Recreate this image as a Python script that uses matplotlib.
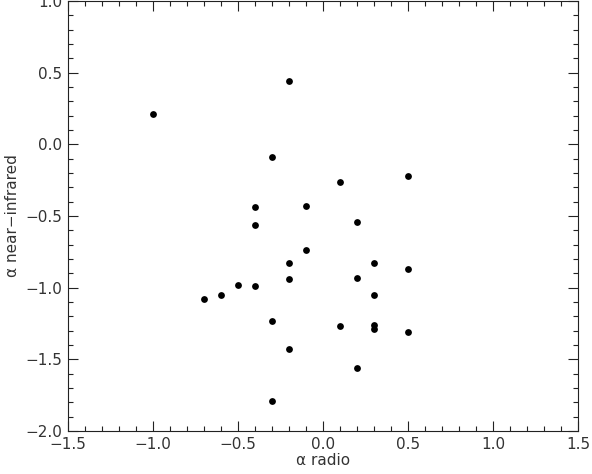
import numpy as np
import matplotlib.pyplot as plt
from matplotlib.ticker import MultipleLocator

# spectral indices
alpha_radio = [-1.0, -0.2, -0.3, 0.5, 0.1, -0.4, -0.1, 0.2, -0.4, -0.1,
               -0.2, 0.3, 0.5, 0.2, -0.2, -0.5, -0.4, -0.6, 0.3, -0.7,
               -0.3, 0.1, 0.3, 0.3, 0.5, -0.2, 0.2, -0.3]
alpha_nir = [0.21, 0.44, -0.09, -0.22, -0.26, -0.44, -0.43, -0.54, -0.56, -0.74,
             -0.83, -0.83, -0.87, -0.93, -0.94, -0.98, -0.99, -1.05, -1.05, -1.08,
             -1.23, -1.27, -1.26, -1.29, -1.31, -1.43, -1.56, -1.79]

plt.rcParams["font.family"] = ["DejaVu Sans"]
plt.rcParams["font.size"] = 11

fig = plt.figure(figsize=(5.92, 4.74), dpi=100)
ax = fig.add_axes([68 / 592, 1 - 431 / 474, 510 / 592, 430 / 474])

ax.scatter(alpha_radio, alpha_nir, s=24, color="k", linewidths=0, zorder=3)

ax.set_xlim(-1.5, 1.5)
ax.set_ylim(-2.0, 1.0)
ax.xaxis.set_major_locator(MultipleLocator(0.5))
ax.xaxis.set_minor_locator(MultipleLocator(0.1))
ax.yaxis.set_major_locator(MultipleLocator(0.5))
ax.yaxis.set_minor_locator(MultipleLocator(0.1))

ax.tick_params(which="both", direction="in", top=True, right=True,
               width=0.8, colors="#222222", labelcolor="#333333")
ax.tick_params(which="major", length=7.5, pad=4)
ax.tick_params(which="minor", length=3.8)
for sp in ax.spines.values():
    sp.set_linewidth(0.8)
    sp.set_color("#222222")

ax.set_xlabel("α radio", color="#333333", labelpad=1)
ax.set_ylabel("α near\u2212infrared", color="#333333", labelpad=4)

fig.savefig("out.png", dpi=100)
